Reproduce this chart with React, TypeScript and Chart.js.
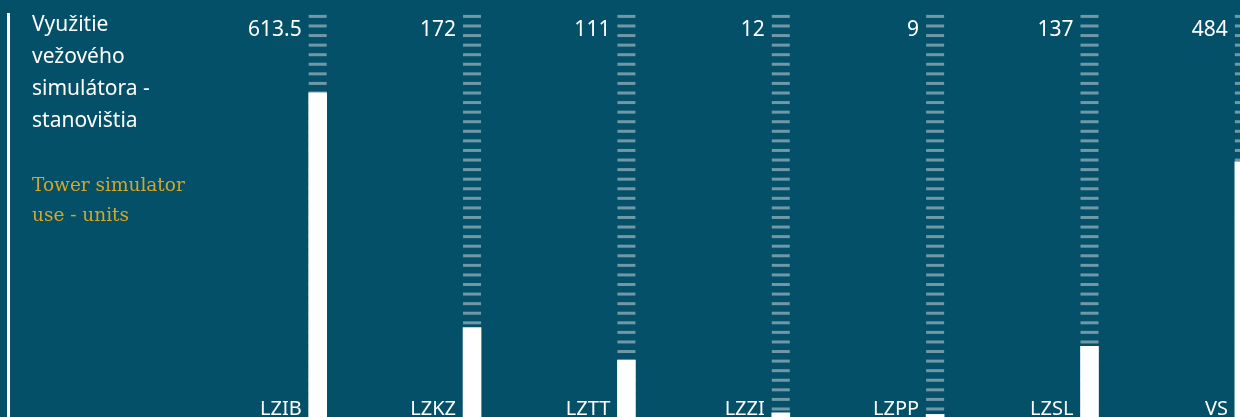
import { useEffect, useRef } from "react";
import { Chart, registerables } from "chart.js";

Chart.register(...registerables);

// Tower simulator use per unit
const categories = ["LZIB", "LZKZ", "LZTT", "LZZI", "LZPP", "LZSL", "VS"];
const units = [613.5, 172, 111, 12, 9, 137, 484];
const valueLabels = units.map((v) => String(v));

// Height of the striped backdrop column and spacing of its stripes (in units)
const columnMax = 760;
const stripeStep = 18;

const BG = "#045068";
const STRIPE = "#7098a7";
const TEXT = "#ffffff";
const GOLD = "#d4a62a";
const SANS = "'Noto Sans', sans-serif";

const stripePlugin = {
  id: "stripeColumns",
  beforeDatasetsDraw(chart: any) {
    const { ctx } = chart;
    const y = chart.scales.y;
    const meta = chart.getDatasetMeta(0);
    ctx.save();
    ctx.fillStyle = STRIPE;
    meta.data.forEach((bar: any) => {
      const { x, width } = bar.getProps(["x", "width"], true);
      for (let v = columnMax; v > y.min - stripeStep; v -= stripeStep) {
        const top = y.getPixelForValue(v);
        ctx.fillRect(x - width / 2, top, width, 3);
      }
    });
    ctx.restore();
  },
};

const labelPlugin = {
  id: "barLabels",
  afterDatasetsDraw(chart: any) {
    const { ctx, chartArea } = chart;
    const meta = chart.getDatasetMeta(0);
    ctx.save();
    ctx.fillStyle = TEXT;
    ctx.textAlign = "right";
    meta.data.forEach((bar: any, i: number) => {
      const { x, width } = bar.getProps(["x", "width"], true);
      const right = x - width / 2 - 7;
      ctx.font = `21px ${SANS}`;
      ctx.textBaseline = "middle";
      ctx.fillText(valueLabels[i], right, chartArea.top + 30);
      ctx.font = `20px ${SANS}`;
      ctx.textBaseline = "alphabetic";
      ctx.fillText(categories[i], right, chartArea.bottom - 2);
    });
    ctx.restore();
  },
};

export default function App() {
  const canvasRef = useRef<HTMLCanvasElement | null>(null);

  useEffect(() => {
    const canvas = canvasRef.current;
    if (!canvas) return;
    const chart = new Chart(canvas, {
      type: "bar",
      data: {
        datasets: [
          {
            data: units.map((v, i) => ({ x: i, y: v })),
            backgroundColor: "#ffffff",
            borderWidth: 0,
            barThickness: 18,
            clip: false as any,
          },
        ],
      },
      options: {
        animation: false,
        responsive: false,
        layout: { padding: 0 },
        scales: {
          x: { type: "linear", offset: false, min: -2.058, max: 5.975, display: false },
          y: { type: "linear", min: 4.1, max: 788, display: false },
        },
        plugins: {
          legend: { display: false },
          tooltip: { enabled: false },
        },
      },
      plugins: [stripePlugin, labelPlugin],
    });
    return () => chart.destroy();
  }, []);

  return (
    <div
      style={{
        position: "absolute",
        left: 0,
        top: 0,
        width: 1240,
        height: 417,
        overflow: "hidden",
        background: BG,
      }}
    >
      <canvas
        ref={canvasRef}
        width={1240}
        height={417}
        style={{ position: "absolute", left: 0, top: 0 }}
      />
      <div
        style={{
          position: "absolute",
          left: 7,
          top: 13,
          width: 3,
          height: 404,
          background: "#ffffff",
        }}
      />
      <div
        style={{
          position: "absolute",
          left: 32,
          top: 7,
          font: `21px ${SANS}`,
          lineHeight: "32px",
          color: TEXT,
          width: 180,
        }}
      >
        <div>Využitie</div>
        <div>vežového</div>
        <div>simulátora -</div>
        <div>stanovištia</div>
      </div>
      <div
        style={{
          position: "absolute",
          left: 32,
          top: 170,
          font: "18.5px 'DejaVu Serif', serif",
          lineHeight: "30px",
          color: GOLD,
          width: 200,
        }}
      >
        <div>Tower simulator</div>
        <div>use - units</div>
      </div>
    </div>
  );
}
